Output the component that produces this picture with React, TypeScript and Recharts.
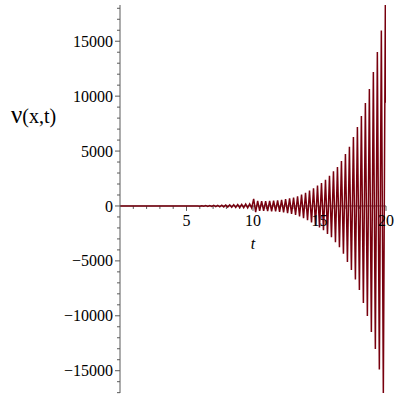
import { LineChart, Line, XAxis, YAxis, ReferenceLine, ReferenceDot } from "recharts";

// [t, value] swings, one per peak / trough
const quietSwing: [number, number][] = [
  [0, 0], [5.85, 0],
];

const earlySwing: [number, number][] = [
  [6.0, -15], [6.15, 20], [6.3, -25], [6.45, 30], [6.6, -35], [6.75, 40],
  [6.9, -45], [7.05, 50], [7.2, -55], [7.35, 60], [7.5, -70], [7.65, 75],
  [7.8, -85], [7.95, 90], [8.1, -100], [8.25, 105], [8.4, -115], [8.55, 120],
  [8.7, -130], [8.85, 135], [9.0, -140], [9.15, 150], [9.3, -160], [9.45, 165],
  [9.6, -175], [9.75, 180], [9.9, -190],
];

const midSwing: [number, number][] = [
  [10.05, 640], [10.2, -560], [10.35, 470], [10.5, -450], [10.65, 440],
  [10.8, -450], [10.95, 450], [11.1, -460], [11.25, 470], [11.4, -480],
  [11.55, 490], [11.7, -500], [11.85, 520], [12.0, -540], [12.15, 560],
  [12.3, -590], [12.45, 620], [12.6, -650], [12.75, 690], [12.9, -720],
  [13.05, 770], [13.2, -820], [13.35, 880], [13.5, -950], [13.65, 1030],
  [13.8, -1110], [13.95, 1200], [14.1, -1300], [14.25, 1400], [14.4, -1500],
  [14.55, 1620], [14.7, -1720], [14.85, 1850],
];

const lateSwing: [number, number][] = [
  [15.0, -1950], [15.15, 2080], [15.3, -2200], [15.45, 2380], [15.6, -2550],
  [15.75, 2750], [15.9, -2850], [16.05, 3150], [16.2, -3300], [16.35, 3550],
  [16.5, -3750], [16.65, 4100], [16.8, -4350], [16.95, 4740], [17.1, -5100],
  [17.25, 5400], [17.4, -5830], [17.55, 6280], [17.7, -6700], [17.85, 7200],
  [18.0, -7650], [18.15, 8200], [18.3, -8830], [18.45, 9380], [18.6, -10020],
  [18.75, 10660], [18.9, -11480], [19.05, 12200], [19.2, -13020], [19.35, 14030],
  [19.5, -14900], [19.65, 15970], [19.8, -17030], [19.95, 18300], [20.0, 9400],
];

const yTicks = [
  -17000, -16000, -15000, -14000, -13000, -12000, -11000, -10000, -9000,
  -8000, -7000, -6000, -5000, -4000, -3000, -2000, -1000, 0, 1000, 2000,
  3000, 4000, 5000, 6000, 7000, 8000, 9000, 10000, 11000, 12000, 13000,
  14000, 15000, 16000, 17000, 18000,
];
const xMajorTicks = [5, 10, 15, 20];
const xMinorTicks = [1, 2, 3, 4, 6, 7, 8, 9, 11, 12, 13, 14, 16, 17, 18, 19];

const data = [...quietSwing, ...earlySwing, ...midSwing, ...lateSwing].map(
  ([t, v]) => ({ t, v })
);

const serif = "'Liberation Serif', 'Times New Roman', serif";
const axisColor = "#5a5a5a";

function YTick(props: any) {
  const { x, y, payload } = props;
  const v = payload.value as number;
  const major = v % 5000 === 0;
  const text = v < 0 ? "\u2212" + Math.abs(v) : String(v);
  return (
    <g>
      <line x1={x - (major ? 5 : 3)} x2={x} y1={y} y2={y} stroke={axisColor} />
      {major && (
        <text x={x - 7} y={y} dy="0.35em" textAnchor="end" style={{ fontFamily: serif, fontSize: 16 }} fill="#000">
          {text}
        </text>
      )}
    </g>
  );
}

function YTitle() {
  return (
    <text x={11} y={123} style={{ fontFamily: serif }} fill="#000">
      <tspan style={{ fontSize: 25 }}>ν</tspan>
      <tspan style={{ fontSize: 20 }}>(x,t)</tspan>
    </text>
  );
}

export default function App() {
  return (
    <div style={{ position: "absolute", left: 0, top: 0, background: "#fff", fontFamily: serif }}>
      <LineChart width={400} height={400} data={data} margin={{ top: 5, right: 14, bottom: 7, left: 0 }} style={{ fontFamily: serif }}>
        <XAxis type="number" dataKey="t" domain={[0, 20]} hide allowDataOverflow />
        <YAxis
          type="number"
          domain={[-17030, 18300]}
          allowDataOverflow
          ticks={yTicks}
          interval={0}
          width={120}
          stroke={axisColor}
          tickSize={0}
          tickMargin={0}
          tickLine={false}
          tick={<YTick />}
          label={<YTitle />}
        />
        <ReferenceLine y={0} stroke={axisColor} />
        {xMinorTicks.map((t) => (
          <ReferenceLine key={"m" + t} segment={[{ x: t, y: 0 }, { x: t, y: -270 }]} stroke={axisColor} />
        ))}
        {xMajorTicks.map((t) => (
          <ReferenceLine
            key={"M" + t}
            segment={[{ x: t, y: 0 }, { x: t, y: -450 }]}
            stroke={axisColor}
            label={{ value: String(t), position: "bottom", offset: 4, fill: "#000", fontSize: 16, style: { fontFamily: serif } }}
          />
        ))}
        <ReferenceDot
          x={10}
          y={-3370}
          r={0}
          stroke="none"
          fill="none"
          label={{ value: "t", position: "center", fill: "#000", fontSize: 16, style: { fontFamily: serif, fontStyle: "italic" } }}
        />
        <Line
          type="linear"
          dataKey="v"
          stroke="#78000E"
          strokeWidth={1.5}
          dot={false}
          isAnimationActive={false}
        />
      </LineChart>
    </div>
  );
}
